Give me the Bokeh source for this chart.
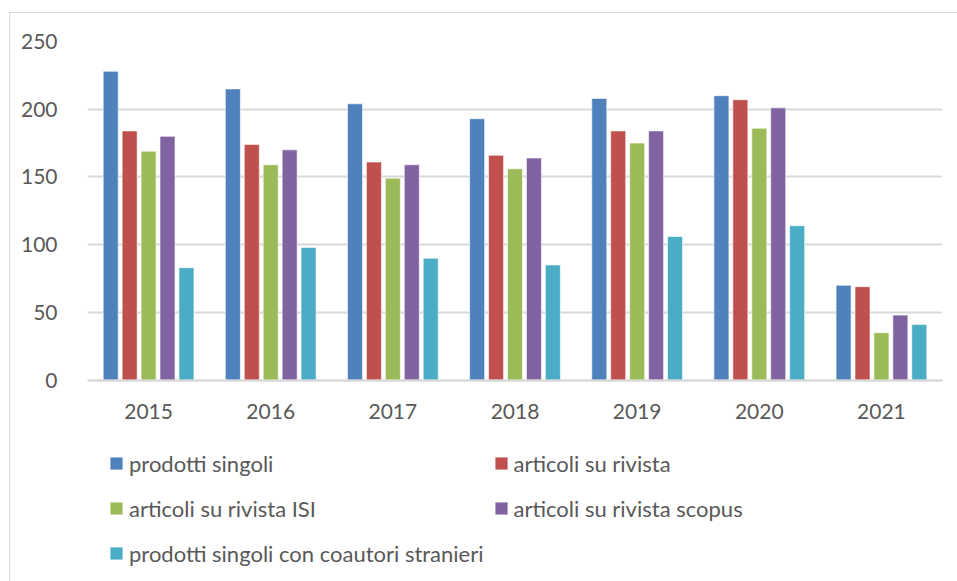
from bokeh.plotting import figure
from bokeh.models import ColumnDataSource, FactorRange, Range1d, FixedTicker, Legend, LegendItem
from bokeh.transform import dodge
from bokeh.embed import file_html
from bokeh.resources import INLINE

years = ["2015", "2016", "2017", "2018", "2019", "2020", "2021"]
prodotti_singoli = [228, 215, 204, 193, 208, 210, 70]
articoli_rivista = [184, 174, 161, 166, 184, 207, 69]
articoli_isi = [169, 159, 149, 156, 175, 186, 35]
articoli_scopus = [180, 170, 159, 164, 184, 201, 48]
coautori_stranieri = [83, 98, 90, 85, 106, 114, 41]
series_names = ["prodotti singoli", "articoli su rivista", "articoli su rivista ISI",
                "articoli su rivista scopus", "prodotti singoli con coautori stranieri"]
y_ticks = [0, 50, 100, 150, 200, 250]

colors = ["#4F81BD", "#C0504D", "#9BBB59", "#8064A2", "#4BACC6"]
keys = ["s0", "s1", "s2", "s3", "s4"]

source = ColumnDataSource(data=dict(years=years, s0=prodotti_singoli, s1=articoli_rivista,
                                    s2=articoli_isi, s3=articoli_scopus, s4=coautori_stranieri))

FONT = "Lato"
TXT = "#595959"

# frame extends below zero so the legend (drawn inside the frame) has room
p = figure(x_range=FactorRange(*years, range_padding=0), y_range=Range1d(-149.4, 250),
           width=948, height=569, output_backend="svg", toolbar_location=None,
           min_border_left=77, min_border_right=16, min_border_top=28, min_border_bottom=0)
p.styles = {"border-left": "1.5px solid #D9D9D9", "border-top": "1.5px solid #D9D9D9",
            "margin-top": "12px", "margin-left": "9px"}
p.outline_line_color = None
p.background_fill_color = "white"
p.border_fill_color = "white"

step = 0.155
offsets = [-2 * step, -step, 0, step, 2 * step]
renderers = []
for k, c, off in zip(keys, colors, offsets):
    r = p.vbar(x=dodge("years", off, range=p.x_range), top=k, bottom=0, width=0.123, source=source,
               fill_color=c, line_color="white", line_alpha=0.6, line_width=1)
    renderers.append(r)

p.xgrid.grid_line_color = None
p.ygrid.ticker = FixedTicker(ticks=y_ticks)
p.ygrid.grid_line_color = "#D9D9D9"
p.ygrid.grid_line_width = 2
p.yaxis.ticker = FixedTicker(ticks=y_ticks)
p.yaxis.axis_line_color = None
p.yaxis.major_tick_line_color = None
p.yaxis.minor_tick_line_color = None
p.yaxis.major_label_standoff = 24
p.xaxis.fixed_location = 0
p.xaxis.axis_line_color = "#D9D9D9"
p.xaxis.axis_line_width = 2
p.xaxis.major_tick_line_color = None
p.xaxis.major_label_standoff = 18
for ax in (p.xaxis, p.yaxis):
    ax.major_label_text_font = FONT
    ax.major_label_text_font_size = "21px"
    ax.major_label_text_color = TXT

legend = Legend(items=[LegendItem(label=n, renderers=[r]) for n, r in zip(series_names, renderers)],
                ncols=2, orientation="horizontal", location=(21, 11))
legend.glyph_width = 16
legend.glyph_height = 16
legend.label_standoff = 5
legend.label_height = 36
legend.spacing = 9
legend.padding = 0
legend.margin = 0
legend.border_line_color = None
legend.background_fill_alpha = 0
legend.label_text_font = FONT
legend.label_text_font_size = "22px"
legend.label_text_color = TXT
p.add_layout(legend, "center")

open("out.html", "w").write(file_html(p, INLINE))
